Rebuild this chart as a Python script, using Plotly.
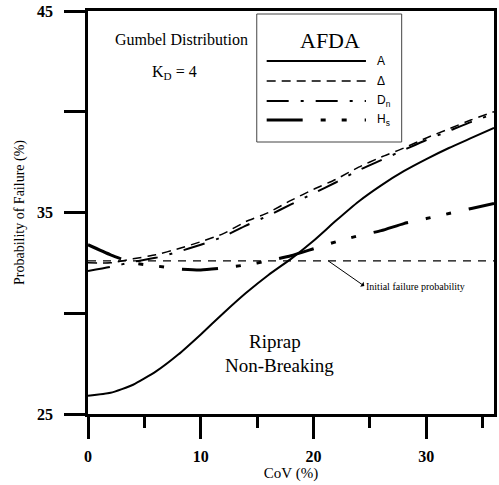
import plotly.graph_objects as go

# ---- data ----
cov = [0, 2, 4, 6, 8, 10, 12, 14, 16, 18, 20, 22, 24, 26, 28, 30, 32, 34, 36]
pf_A = [25.9, 26.05, 26.45, 27.1, 27.95, 28.95, 30.0, 31.0, 31.9, 32.7, 33.6,
        34.6, 35.55, 36.35, 37.05, 37.65, 38.2, 38.7, 39.2]
pf_Delta = [32.5, 32.5, 32.7, 32.9, 33.2, 33.55, 33.95, 34.55, 35.0, 35.6, 36.15,
            36.65, 37.25, 37.75, 38.2, 38.7, 39.15, 39.6, 40.0]
pf_Dn = [32.1, 32.3, 32.55, 32.75, 33.05, 33.4, 33.8, 34.35, 34.85, 35.4, 35.95,
         36.5, 37.1, 37.6, 38.1, 38.6, 39.05, 39.5, 39.9]
pf_Hs = [33.4, 32.9, 32.5, 32.35, 32.2, 32.15, 32.25, 32.4, 32.6, 32.85, 33.2,
         33.55, 33.85, 34.1, 34.45, 34.7, 34.95, 35.2, 35.45]
initial_pf = [32.6] * len(cov)

y_tickvals = [25, 35, 45]
y_ticktext = ["25", "35", "45"]
x_tickvals = [0, 10, 20, 30]
x_ticktext = ["0", "10", "20", "30"]

series_names = ["A", "Δ", "D<sub>n</sub>", "H<sub>s</sub>"]

# styles
styles = [
    dict(color="black", width=2, dash="solid"),
    dict(color="black", width=1.5, dash="9px,6px"),
    dict(color="black", width=2, dash="22px,12px,3px,12px"),
    dict(color="black", width=3, dash="36px,18px,5px,16px,5px,18px"),
]

fig = go.Figure()
for name, vals, st in zip(series_names, [pf_A, pf_Delta, pf_Dn, pf_Hs], styles):
    fig.add_trace(go.Scatter(x=cov, y=vals, mode="lines", name=name,
                             line=dict(shape="spline", smoothing=0.5, **st),
                             showlegend=False))

fig.add_trace(go.Scatter(x=cov, y=initial_pf, mode="lines", name="Initial failure probability",
                         line=dict(color="black", width=1.2, dash="8px,7px"),
                         showlegend=False))

serif = "Liberation Serif"
sans = "Liberation Sans"


def px_x(p):
    return (p - 88) / 409


def px_y(p):
    return (414 - p) / 403


annotations = [
    dict(xref="paper", yref="paper", x=px_x(182), y=px_y(39),
         xanchor="center", yanchor="middle",
         text="Gumbel Distribution", showarrow=False,
         font=dict(family=serif, size=16, color="black")),
    dict(xref="paper", yref="paper", x=px_x(175), y=px_y(72),
         xanchor="center", yanchor="middle",
         text="K<sub>D</sub> = 4", showarrow=False,
         font=dict(family=serif, size=16, color="black")),
    dict(xref="paper", yref="paper", x=px_x(276), y=px_y(341),
         xanchor="center", yanchor="middle",
         text="Riprap", showarrow=False,
         font=dict(family=serif, size=19, color="black")),
    dict(xref="paper", yref="paper", x=px_x(281), y=px_y(365),
         xanchor="center", yanchor="middle",
         text="Non-Breaking", showarrow=False,
         font=dict(family=serif, size=19, color="black")),
    dict(x=21.3, y=32.6, ax=24.5, ay=31.35, axref="x", ayref="y",
         xanchor="left", yanchor="middle", text="Initial failure probability",
         showarrow=True, arrowside="start", arrowhead=5, arrowsize=3,
         arrowwidth=1, arrowcolor="black",
         font=dict(family=serif, size=10, color="black")),
    # legend title
    dict(xref="paper", yref="paper", x=px_x(332), y=px_y(40),
         xanchor="center", yanchor="middle",
         text="AFDA", showarrow=False,
         font=dict(family=serif, size=22, color="black")),
]

# manual legend (box, sample lines, labels)
shapes = [
    dict(type="rect", xref="paper", yref="paper",
         x0=px_x(258), x1=px_x(404), y0=px_y(142), y1=px_y(14),
         line=dict(color="#444", width=1), fillcolor="white", layer="above"),
]
leg_y = [61, 81, 101, 120]
for name, st, py in zip(series_names, styles, leg_y):
    shapes.append(dict(type="line", xref="paper", yref="paper",
                       x0=px_x(268), x1=px_x(368), y0=px_y(py), y1=px_y(py),
                       line=dict(color="black", width=st["width"], dash=st["dash"]),
                       layer="above"))
    annotations.append(dict(xref="paper", yref="paper", x=px_x(377),
                            y=px_y(py), xanchor="left", yanchor="middle", text=name,
                            showarrow=False,
                            font=dict(family=sans, size=12, color="black")))

fig.update_layout(
    width=499, height=485,
    margin=dict(l=88, r=2, t=11, b=71),
    paper_bgcolor="white", plot_bgcolor="white",
    font=dict(family=serif, color="black"),
    annotations=annotations, shapes=shapes,
    xaxis=dict(range=[0, 36], tickvals=x_tickvals, ticktext=x_ticktext,
               ticks="outside", ticklen=22, tickwidth=2.5, tickcolor="black",
               minor=dict(dtick=5, tick0=0, ticks="outside", ticklen=11,
                          tickwidth=2.5, tickcolor="black", showgrid=False),
               showline=True, linewidth=2.5, linecolor="black", mirror=True,
               showgrid=False, zeroline=False, ticklabelstandoff=4,
               tickfont=dict(family=serif, size=16, color="black", weight="bold"),
               title=dict(text="CoV (%)", standoff=0,
                          font=dict(family=serif, size=15, color="black"))),
    yaxis=dict(range=[25, 45], tickvals=y_tickvals, ticktext=y_ticktext,
               ticks="outside", ticklen=21, tickwidth=2.5, tickcolor="black",
               minor=dict(dtick=5, tick0=25, ticks="outside", ticklen=21,
                          tickwidth=2.5, tickcolor="black", showgrid=False),
               showline=True, linewidth=2.5, linecolor="black", mirror=True,
               showgrid=False, zeroline=False, ticklabelstandoff=8,
               tickfont=dict(family=serif, size=16, color="black", weight="bold"),
               title=dict(text="Probability of Failure (%)", standoff=10,
                          font=dict(family=serif, size=14, color="black"))),
)

fig.write_html("out.html")
